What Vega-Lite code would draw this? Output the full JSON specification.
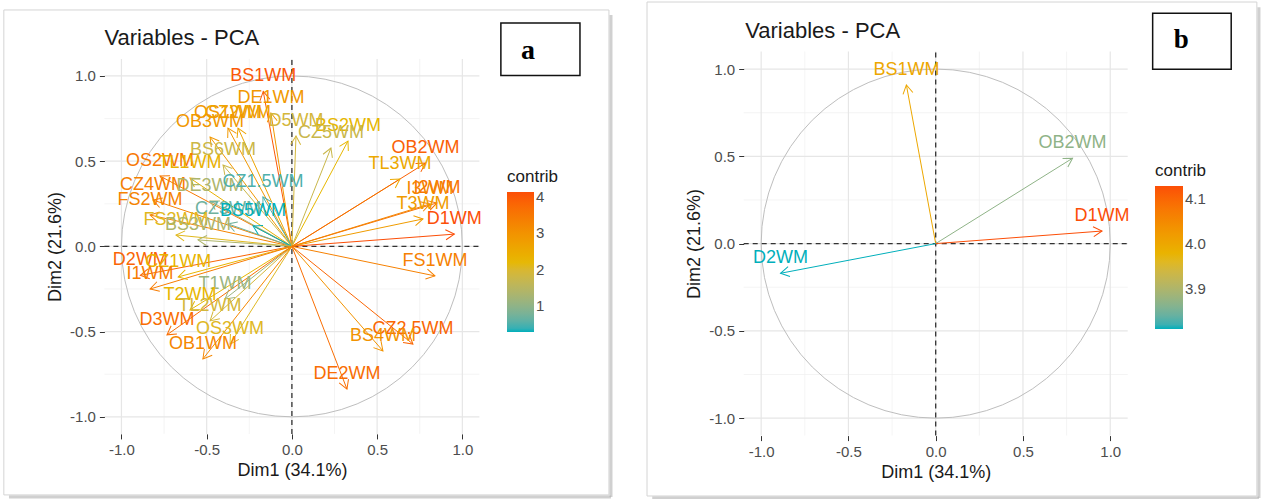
{
  "$schema": "https://vega.github.io/schema/vega-lite/v6.json",
  "width": 1261,
  "height": 499,
  "autosize": {"type": "none"},
  "padding": 0,
  "background": "#FFFFFF",
  "config": {
    "font": "Liberation Sans",
    "view": {"stroke": null},
    "axis": {
      "grid": false, "domain": false, "ticks": true, "tickSize": 5, "tickColor": "#333333", "tickWidth": 1,
      "labelFontSize": 15, "labelColor": "#4D4D4D", "labelPadding": 4, "labelFlush": false, "labelOverlap": false,
      "titleFontSize": 18, "titleFontWeight": "normal", "titleColor": "#1A1A1A"
    },
    "legend": {
      "titleFontSize": 17, "titleFontWeight": "normal", "titleColor": "#1A1A1A",
      "labelFontSize": 15, "labelColor": "#4D4D4D", "labelOffset": 8, "padding": 0, "titlePadding": 6,
      "gradientStrokeWidth": 0, "labelOverlap": false
    }
  },
  "datasets": {
    "varsA": [
      {"name": "BS1WM", "x": -0.168, "y": 0.909, "contrib": 4.00},
      {"name": "DE1WM", "x": -0.123, "y": 0.783, "contrib": 2.90},
      {"name": "OS1WM", "x": -0.375, "y": 0.694, "contrib": 2.90},
      {"name": "CZ2WM", "x": -0.316, "y": 0.694, "contrib": 2.65},
      {"name": "OB3WM", "x": -0.480, "y": 0.641, "contrib": 2.90},
      {"name": "BS6WM", "x": -0.404, "y": 0.477, "contrib": 1.78},
      {"name": "OS2WM", "x": -0.774, "y": 0.413, "contrib": 3.50},
      {"name": "TL1WM", "x": -0.598, "y": 0.401, "contrib": 2.36},
      {"name": "CZ4WM", "x": -0.815, "y": 0.272, "contrib": 3.36},
      {"name": "DE3WM", "x": -0.480, "y": 0.266, "contrib": 1.37},
      {"name": "CZ1.5WM", "x": -0.170, "y": 0.290, "contrib": 0.51},
      {"name": "FS2WM", "x": -0.832, "y": 0.184, "contrib": 3.30},
      {"name": "CZ3WM", "x": -0.375, "y": 0.132, "contrib": 0.72},
      {"name": "BS5WM", "x": -0.228, "y": 0.120, "contrib": 0.30},
      {"name": "FS3WM", "x": -0.680, "y": 0.067, "contrib": 2.12},
      {"name": "BS3WM", "x": -0.551, "y": 0.038, "contrib": 1.38},
      {"name": "D2WM", "x": -0.889, "y": -0.170, "contrib": 3.81},
      {"name": "CZ1WM", "x": -0.667, "y": -0.179, "contrib": 2.30},
      {"name": "I1WM", "x": -0.832, "y": -0.250, "contrib": 3.43},
      {"name": "T1WM", "x": -0.392, "y": -0.308, "contrib": 1.13},
      {"name": "T2WM", "x": -0.598, "y": -0.373, "contrib": 2.26},
      {"name": "TL2WM", "x": -0.480, "y": -0.437, "contrib": 1.92},
      {"name": "D3WM", "x": -0.733, "y": -0.519, "contrib": 3.67},
      {"name": "OS3WM", "x": -0.363, "y": -0.573, "contrib": 2.09},
      {"name": "OB1WM", "x": -0.522, "y": -0.660, "contrib": 3.22},
      {"name": "BS2WM", "x": 0.329, "y": 0.618, "contrib": 2.23},
      {"name": "CZ5WM", "x": 0.229, "y": 0.577, "contrib": 1.75},
      {"name": "D5WM", "x": 0.024, "y": 0.648, "contrib": 1.91},
      {"name": "TL3WM", "x": 0.634, "y": 0.395, "contrib": 2.54},
      {"name": "OB2WM", "x": 0.784, "y": 0.489, "contrib": 3.87},
      {"name": "I2WM", "x": 0.851, "y": 0.255, "contrib": 3.59},
      {"name": "I3WM", "x": 0.810, "y": 0.249, "contrib": 3.27},
      {"name": "T3WM", "x": 0.769, "y": 0.161, "contrib": 2.81},
      {"name": "D1WM", "x": 0.953, "y": 0.072, "contrib": 4.13},
      {"name": "FS1WM", "x": 0.839, "y": -0.173, "contrib": 3.34},
      {"name": "CZ2.5WM", "x": 0.710, "y": -0.573, "contrib": 3.79},
      {"name": "BS4WM", "x": 0.534, "y": -0.613, "contrib": 3.00},
      {"name": "DE2WM", "x": 0.323, "y": -0.837, "contrib": 3.66}
    ],
    "varsB": [
      {"name": "BS1WM", "x": -0.168, "y": 0.909, "contrib": 4.00},
      {"name": "OB2WM", "x": 0.784, "y": 0.489, "contrib": 3.87},
      {"name": "D1WM", "x": 0.953, "y": 0.072, "contrib": 4.13},
      {"name": "D2WM", "x": -0.889, "y": -0.170, "contrib": 3.81}
    ],
    "gridMajor": [{"v": -1}, {"v": -0.5}, {"v": 0}, {"v": 0.5}, {"v": 1}],
    "gridMinor": [{"v": -0.75}, {"v": -0.25}, {"v": 0.25}, {"v": 0.75}],
    "single": [{}]
  },
  "layer": [
    {
      "resolve": {"axis": {"x": "independent", "y": "independent"}, "legend": {"color": "independent"}},
      "layer": [
        {
          "data": {"name": "single"},
          "mark": {"type": "rect", "fillOpacity": 0, "stroke": "#D4D4D4", "strokeWidth": 1},
          "encoding": {
            "x": {"datum": -1.690, "type": "quantitative",
              "scale": {"domain": [-1.1, 1.1], "range": [104.4, 479.4], "nice": false, "zero": false},
              "axis": {"orient": "bottom", "offset": -65.1, "zindex": 1, "values": [-1, -0.5, 0, 0.5, 1],
                "labelExpr": "replace(format(datum.value, '.1f'), '\u2212', '-')",
                "title": "Dim1 (34.1%)", "titlePadding": 4}},
            "x2": {"datum": 1.860},
            "y": {"datum": 1.387, "type": "quantitative",
              "scale": {"domain": [-1.1, 1.1], "range": [433.9, 58.9], "nice": false, "zero": false},
              "axis": {"orient": "left", "offset": -104.4, "zindex": 1, "values": [-1, -0.5, 0, 0.5, 1],
                "labelExpr": "replace(format(datum.value, '.1f'), '\u2212', '-')",
                "title": "Dim2 (21.6%)", "titlePadding": 5}},
            "y2": {"datum": -1.458}
          }
        },
        {
          "data": {"name": "single"},
          "mark": {"type": "rule", "stroke": "#B0B0B0", "strokeWidth": 3, "strokeOpacity": 0.6},
          "encoding": {
            "x": {"datum": 1.872, "type": "quantitative", "axis": null},
            "y": {"datum": 1.357, "type": "quantitative", "axis": null},
            "y2": {"datum": -1.470}
          }
        },
        {
          "data": {"name": "single"},
          "mark": {"type": "rule", "stroke": "#B0B0B0", "strokeWidth": 3, "strokeOpacity": 0.6},
          "encoding": {
            "y": {"datum": -1.470, "type": "quantitative", "axis": null},
            "x": {"datum": -1.660, "type": "quantitative", "axis": null},
            "x2": {"datum": 1.872}
          }
        },
        {
          "data": {"name": "gridMinor"},
          "mark": {"type": "rule", "stroke": "#EFEFEF", "strokeWidth": 0.7},
          "encoding": {
            "x": {"field": "v", "type": "quantitative", "axis": null},
            "y": {"datum": -1.1, "type": "quantitative", "axis": null},
            "y2": {"datum": 1.1}
          }
        },
        {
          "data": {"name": "gridMinor"},
          "mark": {"type": "rule", "stroke": "#EFEFEF", "strokeWidth": 0.7},
          "encoding": {
            "y": {"field": "v", "type": "quantitative", "axis": null},
            "x": {"datum": -1.1, "type": "quantitative", "axis": null},
            "x2": {"datum": 1.1}
          }
        },
        {
          "data": {"name": "gridMajor"},
          "mark": {"type": "rule", "stroke": "#E6E6E6", "strokeWidth": 1.2},
          "encoding": {
            "x": {"field": "v", "type": "quantitative", "axis": null},
            "y": {"datum": -1.1, "type": "quantitative", "axis": null},
            "y2": {"datum": 1.1}
          }
        },
        {
          "data": {"name": "gridMajor"},
          "mark": {"type": "rule", "stroke": "#E6E6E6", "strokeWidth": 1.2},
          "encoding": {
            "y": {"field": "v", "type": "quantitative", "axis": null},
            "x": {"datum": -1.1, "type": "quantitative", "axis": null},
            "x2": {"datum": 1.1}
          }
        },
        {
          "data": {"name": "single"},
          "mark": {"type": "point", "shape": "circle", "size": 116213, "filled": false, "stroke": "#BEBEBE", "strokeWidth": 1, "opacity": 1},
          "encoding": {
            "x": {"datum": 0, "type": "quantitative", "axis": null},
            "y": {"datum": 0, "type": "quantitative", "axis": null}
          }
        },
        {
          "data": {"name": "single"},
          "mark": {"type": "rule", "stroke": "#333333", "strokeWidth": 1.3, "strokeDash": [5, 4]},
          "encoding": {
            "x": {"datum": 0, "type": "quantitative", "axis": null},
            "y": {"datum": -1.1, "type": "quantitative", "axis": null},
            "y2": {"datum": 1.1}
          }
        },
        {
          "data": {"name": "single"},
          "mark": {"type": "rule", "stroke": "#333333", "strokeWidth": 1.3, "strokeDash": [5, 4]},
          "encoding": {
            "y": {"datum": 0, "type": "quantitative", "axis": null},
            "x": {"datum": -1.1, "type": "quantitative", "axis": null},
            "x2": {"datum": 1.1}
          }
        },
        {
          "data": {"name": "varsA"},
          "mark": {"type": "rule", "strokeWidth": 1},
          "encoding": {
            "x": {"field": "x", "type": "quantitative", "axis": null},
            "y": {"field": "y", "type": "quantitative", "axis": null},
            "x2": {"datum": 0},
            "y2": {"datum": 0},
            "color": {"field": "contrib", "type": "quantitative",
              "scale": {"domain": [0.30, 2.215, 4.13], "range": ["#00AFBB", "#E7B800", "#FC4E07"], "interpolate": "lab"},
              "legend": null}
          }
        },
        {
          "data": {"name": "varsA"},
          "transform": [{"calculate": "(360 - atan2(datum.y, datum.x) * 180 / PI) % 360", "as": "ang"}],
          "mark": {"type": "point", "shape": "M-1,-0.577L0,0L-1,0.577", "filled": false, "size": 300, "strokeWidth": 1, "opacity": 1},
          "encoding": {
            "x": {"field": "x", "type": "quantitative", "axis": null},
            "y": {"field": "y", "type": "quantitative", "axis": null},
            "angle": {"field": "ang", "type": "quantitative", "scale": null},
            "color": {"field": "contrib", "type": "quantitative", "legend": null}
          }
        },
        {
          "data": {"name": "varsA"},
          "mark": {"type": "text", "fontSize": 18, "align": "center", "baseline": "middle", "dy": -15},
          "encoding": {
            "x": {"field": "x", "type": "quantitative", "axis": null},
            "y": {"field": "y", "type": "quantitative", "axis": null},
            "text": {"field": "name"},
            "color": {"field": "contrib", "type": "quantitative",
              "legend": {"type": "gradient", "orient": "none", "legendX": 507, "legendY": 169, "direction": "vertical", "zindex": 1,
                "gradientLength": 140, "gradientThickness": 27, "values": [1, 2, 3, 4], "format": "d", "title": "contrib"}}
          }
        },
        {
          "data": {"name": "single"},
          "mark": {"type": "text", "text": "Variables - PCA", "fontSize": 22, "align": "left", "baseline": "alphabetic", "color": "#1A1A1A"},
          "encoding": {
            "x": {"datum": -1.1, "type": "quantitative", "axis": null},
            "y": {"datum": 1.179, "type": "quantitative", "axis": null}
          }
        },
        {
          "data": {"name": "single"},
          "mark": {"type": "rect", "fill": "#FFFFFF", "stroke": "#111111", "strokeWidth": 1.5},
          "encoding": {
            "x": {"datum": 1.226, "type": "quantitative", "axis": null},
            "x2": {"datum": 1.690},
            "y": {"datum": 1.311, "type": "quantitative", "axis": null},
            "y2": {"datum": 1.002}
          }
        },
        {
          "data": {"name": "single"},
          "mark": {"type": "text", "text": "a", "font": "Liberation Serif", "fontWeight": "bold", "fontSize": 28, "align": "center", "baseline": "alphabetic", "color": "#000000"},
          "encoding": {
            "x": {"datum": 1.385, "type": "quantitative", "axis": null},
            "y": {"datum": 1.098, "type": "quantitative", "axis": null}
          }
        }
      ]
    },
    {
      "resolve": {"axis": {"x": "independent", "y": "independent"}, "legend": {"color": "independent"}},
      "layer": [
        {
          "data": {"name": "single"},
          "mark": {"type": "rect", "fillOpacity": 0, "stroke": "#D4D4D4", "strokeWidth": 1},
          "encoding": {
            "x": {"datum": -1.654, "type": "quantitative",
              "scale": {"domain": [-1.1, 1.1], "range": [743.7, 1127.7], "nice": false, "zero": false},
              "axis": {"orient": "bottom", "offset": -63.4, "zindex": 1, "values": [-1, -0.5, 0, 0.5, 1],
                "labelExpr": "replace(format(datum.value, '.1f'), '\u2212', '-')",
                "title": "Dim1 (34.1%)", "titlePadding": 4}},
            "x2": {"datum": 1.840},
            "y": {"datum": 1.384, "type": "quantitative",
              "scale": {"domain": [-1.1, 1.1], "range": [435.6, 51.6], "nice": false, "zero": false},
              "axis": {"orient": "left", "offset": -743.7, "zindex": 1, "values": [-1, -0.5, 0, 0.5, 1],
                "labelExpr": "replace(format(datum.value, '.1f'), '\u2212', '-')",
                "title": "Dim2 (21.6%)", "titlePadding": 5}},
            "y2": {"datum": -1.446}
          }
        },
        {
          "data": {"name": "single"},
          "mark": {"type": "rule", "stroke": "#B0B0B0", "strokeWidth": 3, "strokeOpacity": 0.6},
          "encoding": {
            "x": {"datum": 1.852, "type": "quantitative", "axis": null},
            "y": {"datum": 1.354, "type": "quantitative", "axis": null},
            "y2": {"datum": -1.458}
          }
        },
        {
          "data": {"name": "single"},
          "mark": {"type": "rule", "stroke": "#B0B0B0", "strokeWidth": 3, "strokeOpacity": 0.6},
          "encoding": {
            "y": {"datum": -1.458, "type": "quantitative", "axis": null},
            "x": {"datum": -1.624, "type": "quantitative", "axis": null},
            "x2": {"datum": 1.852}
          }
        },
        {
          "data": {"name": "gridMinor"},
          "mark": {"type": "rule", "stroke": "#EFEFEF", "strokeWidth": 0.7},
          "encoding": {
            "x": {"field": "v", "type": "quantitative", "axis": null},
            "y": {"datum": -1.1, "type": "quantitative", "axis": null},
            "y2": {"datum": 1.1}
          }
        },
        {
          "data": {"name": "gridMinor"},
          "mark": {"type": "rule", "stroke": "#EFEFEF", "strokeWidth": 0.7},
          "encoding": {
            "y": {"field": "v", "type": "quantitative", "axis": null},
            "x": {"datum": -1.1, "type": "quantitative", "axis": null},
            "x2": {"datum": 1.1}
          }
        },
        {
          "data": {"name": "gridMajor"},
          "mark": {"type": "rule", "stroke": "#E6E6E6", "strokeWidth": 1.2},
          "encoding": {
            "x": {"field": "v", "type": "quantitative", "axis": null},
            "y": {"datum": -1.1, "type": "quantitative", "axis": null},
            "y2": {"datum": 1.1}
          }
        },
        {
          "data": {"name": "gridMajor"},
          "mark": {"type": "rule", "stroke": "#E6E6E6", "strokeWidth": 1.2},
          "encoding": {
            "y": {"field": "v", "type": "quantitative", "axis": null},
            "x": {"datum": -1.1, "type": "quantitative", "axis": null},
            "x2": {"datum": 1.1}
          }
        },
        {
          "data": {"name": "single"},
          "mark": {"type": "point", "shape": "circle", "size": 121871, "filled": false, "stroke": "#BEBEBE", "strokeWidth": 1, "opacity": 1},
          "encoding": {
            "x": {"datum": 0, "type": "quantitative", "axis": null},
            "y": {"datum": 0, "type": "quantitative", "axis": null}
          }
        },
        {
          "data": {"name": "single"},
          "mark": {"type": "rule", "stroke": "#333333", "strokeWidth": 1.3, "strokeDash": [5, 4]},
          "encoding": {
            "x": {"datum": 0, "type": "quantitative", "axis": null},
            "y": {"datum": -1.1, "type": "quantitative", "axis": null},
            "y2": {"datum": 1.1}
          }
        },
        {
          "data": {"name": "single"},
          "mark": {"type": "rule", "stroke": "#333333", "strokeWidth": 1.3, "strokeDash": [5, 4]},
          "encoding": {
            "y": {"datum": 0, "type": "quantitative", "axis": null},
            "x": {"datum": -1.1, "type": "quantitative", "axis": null},
            "x2": {"datum": 1.1}
          }
        },
        {
          "data": {"name": "varsB"},
          "mark": {"type": "rule", "strokeWidth": 1},
          "encoding": {
            "x": {"field": "x", "type": "quantitative", "axis": null},
            "y": {"field": "y", "type": "quantitative", "axis": null},
            "x2": {"datum": 0},
            "y2": {"datum": 0},
            "color": {"field": "contrib", "type": "quantitative",
              "scale": {"domain": [3.81, 3.97, 4.13], "range": ["#00AFBB", "#E7B800", "#FC4E07"], "interpolate": "lab"},
              "legend": null}
          }
        },
        {
          "data": {"name": "varsB"},
          "transform": [{"calculate": "(360 - atan2(datum.y, datum.x) * 180 / PI) % 360", "as": "ang"}],
          "mark": {"type": "point", "shape": "M-1,-0.577L0,0L-1,0.577", "filled": false, "size": 300, "strokeWidth": 1, "opacity": 1},
          "encoding": {
            "x": {"field": "x", "type": "quantitative", "axis": null},
            "y": {"field": "y", "type": "quantitative", "axis": null},
            "angle": {"field": "ang", "type": "quantitative", "scale": null},
            "color": {"field": "contrib", "type": "quantitative", "legend": null}
          }
        },
        {
          "data": {"name": "varsB"},
          "mark": {"type": "text", "fontSize": 18, "align": "center", "baseline": "middle", "dy": -15},
          "encoding": {
            "x": {"field": "x", "type": "quantitative", "axis": null},
            "y": {"field": "y", "type": "quantitative", "axis": null},
            "text": {"field": "name"},
            "color": {"field": "contrib", "type": "quantitative",
              "legend": {"type": "gradient", "orient": "none", "legendX": 1155, "legendY": 163, "direction": "vertical", "zindex": 1,
                "gradientLength": 143, "gradientThickness": 28, "values": [3.9, 4.0, 4.1], "format": ".1f", "title": "contrib"}}
          }
        },
        {
          "data": {"name": "single"},
          "mark": {"type": "text", "text": "Variables - PCA", "fontSize": 22, "align": "left", "baseline": "alphabetic", "color": "#1A1A1A"},
          "encoding": {
            "x": {"datum": -1.091, "type": "quantitative", "axis": null},
            "y": {"datum": 1.178, "type": "quantitative", "axis": null}
          }
        },
        {
          "data": {"name": "single"},
          "mark": {"type": "rect", "fill": "#FFFFFF", "stroke": "#111111", "strokeWidth": 1.5},
          "encoding": {
            "x": {"datum": 1.243, "type": "quantitative", "axis": null},
            "x2": {"datum": 1.693},
            "y": {"datum": 1.319, "type": "quantitative", "axis": null},
            "y2": {"datum": 0.999}
          }
        },
        {
          "data": {"name": "single"},
          "mark": {"type": "text", "text": "b", "font": "Liberation Serif", "fontWeight": "bold", "fontSize": 27, "align": "center", "baseline": "alphabetic", "color": "#000000"},
          "encoding": {
            "x": {"datum": 1.407, "type": "quantitative", "axis": null},
            "y": {"datum": 1.119, "type": "quantitative", "axis": null}
          }
        }
      ]
    }
  ],
  "resolve": {"scale": {"x": "independent", "y": "independent", "color": "independent"}}
}
